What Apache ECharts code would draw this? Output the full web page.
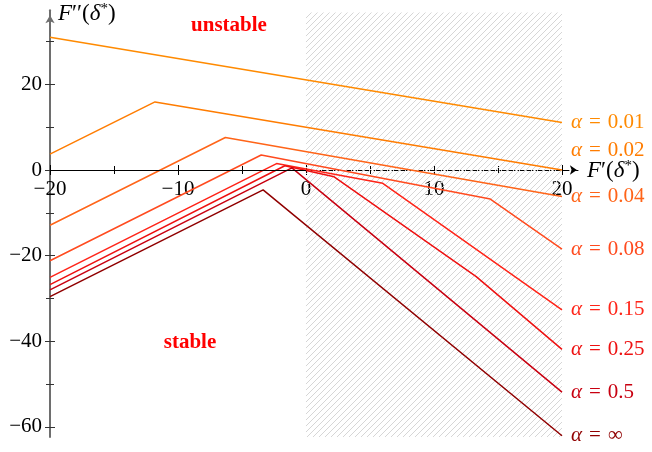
<!DOCTYPE html>
<html>
<head>
<meta charset="utf-8">
<script src="https://cdn.jsdelivr.net/npm/echarts@6/dist/echarts.min.js"></script>
<style>
  html, body { margin: 0; padding: 0; background: #fff; }
  #chart { width: 652px; height: 452px; }
</style>
</head>
<body>
<div id="chart"></div>
<script>
// Curve parameters and their piecewise-linear stability boundaries, [F'(δ*), F''(δ*)]
const alphaNames = ['0.01', '0.02', '0.04', '0.08', '0.15', '0.25', '0.5', '∞'];
const curveA001 = [[-20, 31.0], [20, 11.1]];
const curveA002 = [[-20, 3.7], [-11.8, 15.9], [20, 0.0]];
const curveA004 = [[-20, -12.9], [-6.3, 7.6], [20, -6.2]];
const curveA008 = [[-20, -21.2], [-3.5, 3.5], [14.4, -6.8], [20, -18.5]];
const curveA015 = [[-20, -25.1], [-2.3, 1.5], [6.0, -3.1], [20, -32.7]];
const curveA025 = [[-20, -26.8], [-1.65, 1.0], [2.2, -1.6], [13.3, -24.9], [20, -41.9]];
const curveA05 = [[-20, -28.0], [-1.1, 0.5], [20, -51.9]];
const curveAinf = [[-20, -29.6], [-3.35, -4.65], [20, -62.1]];

// Axis ticks
const xMajorTicks = [-20, -10, 0, 10, 20];
const xMinorTicks = [-15, -5, 5, 15];
const yMajorTicks = [-60, -40, -20, 0, 20];
const yMinorTicks = [-50, -30, -10, 10, 30];

// Hatched region F'(δ*) > 0
const hatchX = [0, 20];
const hatchY = [-62.4, 36.8];

const curves = [curveA001, curveA002, curveA004, curveA008, curveA015, curveA025, curveA05, curveAinf];
const colors = ['#ff8a00', '#ff7c00', '#ff6418', '#ff4a1e', '#ff2418', '#ee1010', '#c80010', '#900000'];

const SERIF = '"Liberation Serif", "DejaVu Serif", serif';
const X_MIN = -20, X_MAX = 21.4, Y_MIN = -62.4, Y_MAX = 37.3;
const GRID = { left: 50, right: 72.1, top: 10.36, bottom: 14.93 };
const PLOT_H = 452 - GRID.top - GRID.bottom;
// distance from the bottom edge of the plot up to F''(δ*) = 0
const ZERO_LIFT = PLOT_H * (0 - Y_MIN) / (Y_MAX - Y_MIN);

// Diagonal hatch tile
function makeHatch() {
  const c = document.createElement('canvas');
  c.width = 6; c.height = 6;
  const g = c.getContext('2d');
  g.strokeStyle = '#d6d6d6';
  g.lineWidth = 1;
  g.beginPath();
  g.moveTo(-1, 7); g.lineTo(7, -1);
  g.moveTo(-4, 4); g.lineTo(4, -4);
  g.moveTo(2, 10); g.lineTo(10, 2);
  g.stroke();
  return c;
}

const minus = v => (v < 0 ? '\u2212' : '') + Math.abs(v);

function xAxisDef(extra) {
  return Object.assign({
    type: 'value', position: 'bottom', min: X_MIN, max: X_MAX,
    splitLine: { show: false },
    axisLine: { show: false, onZero: true },
    axisTick: { show: false },
    axisLabel: { show: false }
  }, extra);
}
function yAxisDef(extra) {
  return Object.assign({
    type: 'value', position: 'left', min: Y_MIN, max: Y_MAX,
    splitLine: { show: false },
    axisLine: { show: false, onZero: false },
    axisTick: { show: false },
    axisLabel: { show: false }
  }, extra);
}

const series = curves.map((d, i) => ({
  type: 'line',
  name: 'α = ' + alphaNames[i],
  data: d,
  xAxisIndex: 0,
  yAxisIndex: 0,
  symbol: 'none',
  showSymbol: false,
  silent: true,
  z: 3,
  lineStyle: { color: colors[i], width: 1.5 },
  itemStyle: { color: colors[i] },
  endLabel: {
    show: true,
    distance: 9,
    offset: i === 1 ? [0, -20] : [0, 0],
    formatter: '{a|α}{e|=}' + alphaNames[i],
    color: colors[i],
    fontFamily: SERIF,
    fontSize: 21,
    rich: {
      a: { fontStyle: 'italic', fontFamily: SERIF, fontSize: 21, color: colors[i] },
      e: { fontFamily: SERIF, fontSize: 21, color: colors[i], padding: [0, 7, 0, 7] }
    }
  }
}));

series[0].markArea = {
  silent: true,
  itemStyle: { color: { image: makeHatch(), repeat: 'repeat' }, borderWidth: 0 },
  data: [[{ coord: [hatchX[0], hatchY[1]] }, { coord: [hatchX[1], hatchY[0]] }]]
};
// solid part of the horizontal axis on the stable side
series[0].markLine = {
  silent: true,
  symbol: ['none', 'none'],
  label: { show: false },
  lineStyle: { color: '#000', type: 'solid', width: 1 },
  emphasis: { disabled: true },
  data: [[{ coord: [X_MIN, 0] }, { coord: [hatchX[0], 0] }]]
};

const nameRich = {
  i: { fontStyle: 'italic', fontFamily: SERIF, fontSize: 23, color: '#000', lineHeight: 24 },
  n: { fontFamily: SERIF, fontSize: 23, color: '#000', lineHeight: 24 },
  s: { fontFamily: SERIF, fontSize: 15, color: '#000', lineHeight: 24, verticalAlign: 'top' }
};

const chart = echarts.init(document.getElementById('chart'), null, { renderer: 'canvas' });
chart.setOption({
  animation: false,
  backgroundColor: '#fff',
  grid: Object.assign({ containLabel: false, outerBoundsMode: 'none' }, GRID),
  xAxis: [
    xAxisDef({
      axisLine: {
        show: true, onZero: true, symbol: ['none', 'arrow'], symbolSize: [7, 7], symbolOffset: [0, -3],
        lineStyle: { color: '#000', width: 1, type: [6, 3] }
      },
      axisTick: { show: true, customValues: xMajorTicks, length: 5, lineStyle: { color: '#000', width: 1 } }
    }),
    xAxisDef({ axisTick: { show: true, inside: true, customValues: xMajorTicks, length: 5, lineStyle: { color: '#000', width: 1 } } }),
    xAxisDef({ axisTick: { show: true, customValues: xMinorTicks, length: 4, lineStyle: { color: '#000', width: 1 } } }),
    xAxisDef({ axisTick: { show: true, inside: true, customValues: xMinorTicks, length: 4, lineStyle: { color: '#000', width: 1 } } }),
    // tick labels hung under the F''(δ*) = 0 line
    xAxisDef({
      axisLine: { show: false, onZero: false },
      offset: -ZERO_LIFT,
      axisLabel: { show: true, customValues: xMajorTicks, formatter: minus, fontFamily: SERIF, fontSize: 21, color: '#000', margin: 9 }
    })
  ],
  yAxis: [
    yAxisDef({
      axisLine: {
        show: true, onZero: false, symbol: ['none', 'arrow'], symbolSize: [7, 8], symbolOffset: [0, -5],
        lineStyle: { color: '#6e6e6e', width: 2 }
      },
      axisTick: { show: true, customValues: yMajorTicks, length: 5, lineStyle: { color: '#333', width: 1 } },
      axisLabel: { show: true, customValues: yMajorTicks, formatter: minus, fontFamily: SERIF, fontSize: 21, color: '#000', margin: 8 }
    }),
    yAxisDef({ axisTick: { show: true, inside: true, customValues: yMajorTicks, length: 5, lineStyle: { color: '#333', width: 1 } } }),
    yAxisDef({ axisTick: { show: true, customValues: yMinorTicks, length: 4, lineStyle: { color: '#333', width: 1 } } }),
    yAxisDef({ axisTick: { show: true, inside: true, customValues: yMinorTicks, length: 4, lineStyle: { color: '#333', width: 1 } } })
  ],
  graphic: [
    {
      type: 'text', x: 229, y: 26, silent: true,
      style: { text: 'unstable', fill: '#ff0000', font: 'bold 21px ' + SERIF, align: 'center', verticalAlign: 'middle' }
    },
    {
      type: 'text', x: 190, y: 343, silent: true,
      style: { text: 'stable', fill: '#ff0000', font: 'bold 21px ' + SERIF, align: 'center', verticalAlign: 'middle' }
    },
    {
      type: 'text', x: 58, y: 14, silent: true,
      style: {
        text: '{i|F}{n|\u2032\u2032(}{i|δ}{s|*}{n|)}',
        align: 'left', verticalAlign: 'middle', fill: '#000', font: '23px ' + SERIF,
        rich: nameRich
      }
    },
    {
      type: 'text', x: 587, y: 171, silent: true,
      style: {
        text: '{i|F}{n|\u2032(}{i|δ}{s|*}{n|)}',
        align: 'left', verticalAlign: 'middle', fill: '#000', font: '23px ' + SERIF,
        rich: nameRich
      }
    }
  ],
  series: series
});
</script>
</body>
</html>
